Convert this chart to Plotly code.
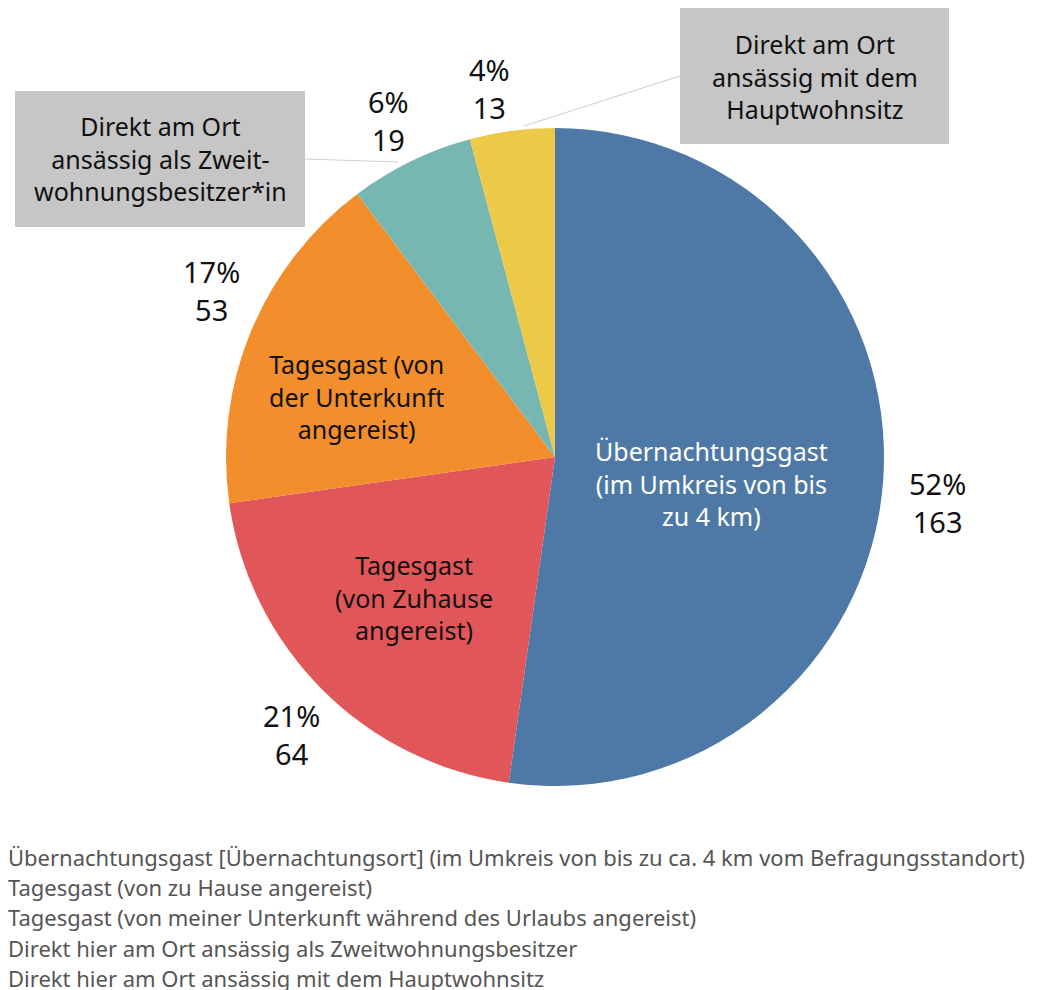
import math
import plotly.graph_objects as go

# ---- data ----
categories = [
    "Übernachtungsgast",
    "Tagesgast (von zu Hause)",
    "Tagesgast (von Unterkunft)",
    "Zweitwohnungsbesitzer",
    "Hauptwohnsitz",
]
values = [163, 64, 53, 19, 13]
colors = ["#4e79a7", "#e15759", "#f28e2b", "#76b7b2", "#edc948"]
inside_labels = [
    "Übernachtungsgast<br>(im Umkreis von bis<br>zu 4 km)",
    "Tagesgast<br>(von Zuhause<br>angereist)",
    "Tagesgast (von<br>der Unterkunft<br>angereist)",
    None,
    None,
]
callout_labels = [
    None, None, None,
    "Direkt am Ort<br>ansässig als Zweit-<br>wohnungsbesitzer*in",
    "Direkt am Ort<br>ansässig mit dem<br>Hauptwohnsitz",
]
legend_labels = [
    "Übernachtungsgast [Übernachtungsort] (im Umkreis von bis zu ca. 4 km vom Befragungsstandort)",
    "Tagesgast (von zu Hause angereist)",
    "Tagesgast (von meiner Unterkunft während des Urlaubs angereist)",
    "Direkt hier am Ort ansässig als Zweitwohnungsbesitzer",
    "Direkt hier am Ort ansässig mit dem Hauptwohnsitz",
]

# ---- layout geometry ----
W, H = 1045, 990
OFF = 8  # page body margin
CX, CY, R = 555, 457, 329  # pixel centre / radius of pie (page coords)
FONT = "Noto Sans"


def px(x):
    return (x - OFF) / W


def py(y):
    return 1 - (y - OFF) / H


fig = go.Figure()
fig.add_trace(go.Pie(
    labels=categories,
    values=values,
    sort=False,
    direction="clockwise",
    rotation=0,
    marker=dict(colors=colors, line=dict(width=0)),
    textinfo="none",
    hoverinfo="label+value+percent",
    showlegend=False,
    domain=dict(x=[px(CX - R), px(CX + R)], y=[py(CY + R), py(CY - R)]),
))

annotations = []
total = sum(values)

# outside percentage + count labels (text block centres, page pixels)
outside_pos = [(937, 502), (291, 734), (212, 290), (388, 120), (489, 89)]
for v, (x, y) in zip(values, outside_pos):
    annotations.append(dict(
        x=px(x), y=py(y), xref="paper", yref="paper",
        text=f"{round(v / total * 100)}%<br>{v}", showarrow=False,
        font=dict(family=FONT, size=29, color="#111"),
        align="center", xanchor="center", yanchor="middle",
    ))

# inside labels (pixel positions of text blocks)
inside_pos = [(711, 483, "white"), (414, 597, "#111"), (356, 396, "#111")]
for lab, (x, y, c) in zip(inside_labels[:3], inside_pos):
    annotations.append(dict(
        x=px(x), y=py(y), xref="paper", yref="paper", text=lab,
        showarrow=False, font=dict(family=FONT, size=25, color=c),
        align="center", xanchor="center", yanchor="middle",
    ))

# callout boxes
shapes = []
boxes = [(15, 91, 305, 227), (680, 8, 949, 144)]
lines = [((305, 159), (398, 162)), ((680, 76), (524, 126))]
for lab, (x0, y0, x1, y1), ((lx0, ly0), (lx1, ly1)) in zip(callout_labels[3:], boxes, lines):
    shapes.append(dict(type="rect", xref="paper", yref="paper",
                       x0=px(x0), x1=px(x1), y0=py(y1), y1=py(y0),
                       fillcolor="#c6c6c6", line=dict(width=0), layer="below"))
    shapes.append(dict(type="line", xref="paper", yref="paper",
                       x0=px(lx0), y0=py(ly0), x1=px(lx1), y1=py(ly1),
                       line=dict(color="#d0d0d0", width=1.2)))
    annotations.append(dict(
        x=px((x0 + x1) / 2), y=py((y0 + y1) / 2), xref="paper", yref="paper",
        text=lab, showarrow=False, font=dict(family=FONT, size=25, color="#111"),
        align="center", xanchor="center", yanchor="middle",
    ))

# legend text lines
for i, lab in enumerate(legend_labels):
    annotations.append(dict(
        x=px(6), y=py(857 + i * 30.2), xref="paper", yref="paper", text=lab,
        showarrow=False, font=dict(family=FONT, size=22, color="#555"),
        xanchor="left", yanchor="middle",
    ))

fig.update_layout(
    width=W, height=H,
    margin=dict(l=0, r=0, t=0, b=0),
    paper_bgcolor="white", plot_bgcolor="white",
    annotations=annotations, shapes=shapes,
    font=dict(family=FONT),
)
fig.write_html("out.html")
